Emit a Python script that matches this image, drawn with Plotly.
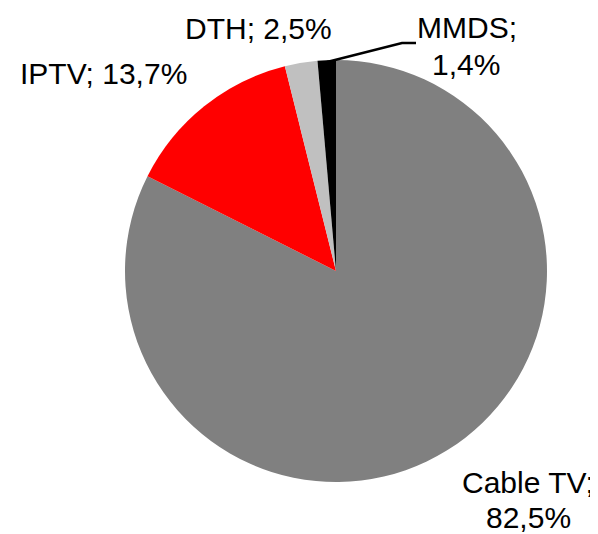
import plotly.graph_objects as go

categories = ["Cable TV", "IPTV", "DTH", "MMDS"]
shares = [82.5, 13.7, 2.5, 1.4]
share_labels = ["82,5%", "13,7%", "2,5%", "1,4%"]
colors = ["#808080", "#ff0000", "#c0c0c0", "#000000"]

# the page body adds an 8px offset; size the figure to fill the rest of the window
OFF = 8
W, H = 598 - OFF, 534 - OFF
FONT = dict(family="Liberation Sans, Arial, sans-serif", size=30, color="#000000")


def fx(x):
    return (x - OFF) / W


def fy(y):
    return 1 - (y - OFF) / H


fig = go.Figure(go.Pie(
    labels=categories,
    values=shares,
    sort=False,
    direction="clockwise",
    rotation=0,
    marker=dict(colors=colors, line=dict(width=0)),
    textinfo="none",
    hoverinfo="label+percent",
    domain=dict(x=[fx(125), fx(547)], y=[fy(482), fy(60)]),
    showlegend=False,
))

# label placements (reference pixel centres of the capitals)
placements = {
    "Cable TV": [(528, 484), (528, 519)],
    "IPTV": [(103.5, 76)],
    "DTH": [(258, 31)],
    "MMDS": [(467, 29), (466, 66)],
}

annotations = []
for cat, pct in zip(categories, share_labels):
    pos = placements[cat]
    if len(pos) == 1:
        lines = [f"{cat}; {pct}"]
    else:
        lines = [f"{cat};", pct]
    for text, (x, y) in zip(lines, pos):
        annotations.append(dict(
            x=fx(x), y=fy(y - 2), xref="paper", yref="paper", text=text,
            showarrow=False, xanchor="center", yanchor="middle", font=FONT,
        ))

fig.add_shape(type="path", xref="paper", yref="paper",
              path=f"M {fx(327)} {fy(62)} L {fx(402)} {fy(43)} L {fx(416)} {fy(43)}",
              line=dict(color="#000000", width=2.5))

fig.update_layout(
    width=W, height=H,
    margin=dict(l=0, r=0, t=0, b=0),
    paper_bgcolor="#ffffff",
    plot_bgcolor="#ffffff",
    annotations=annotations,
)

fig.write_html("out.html")
